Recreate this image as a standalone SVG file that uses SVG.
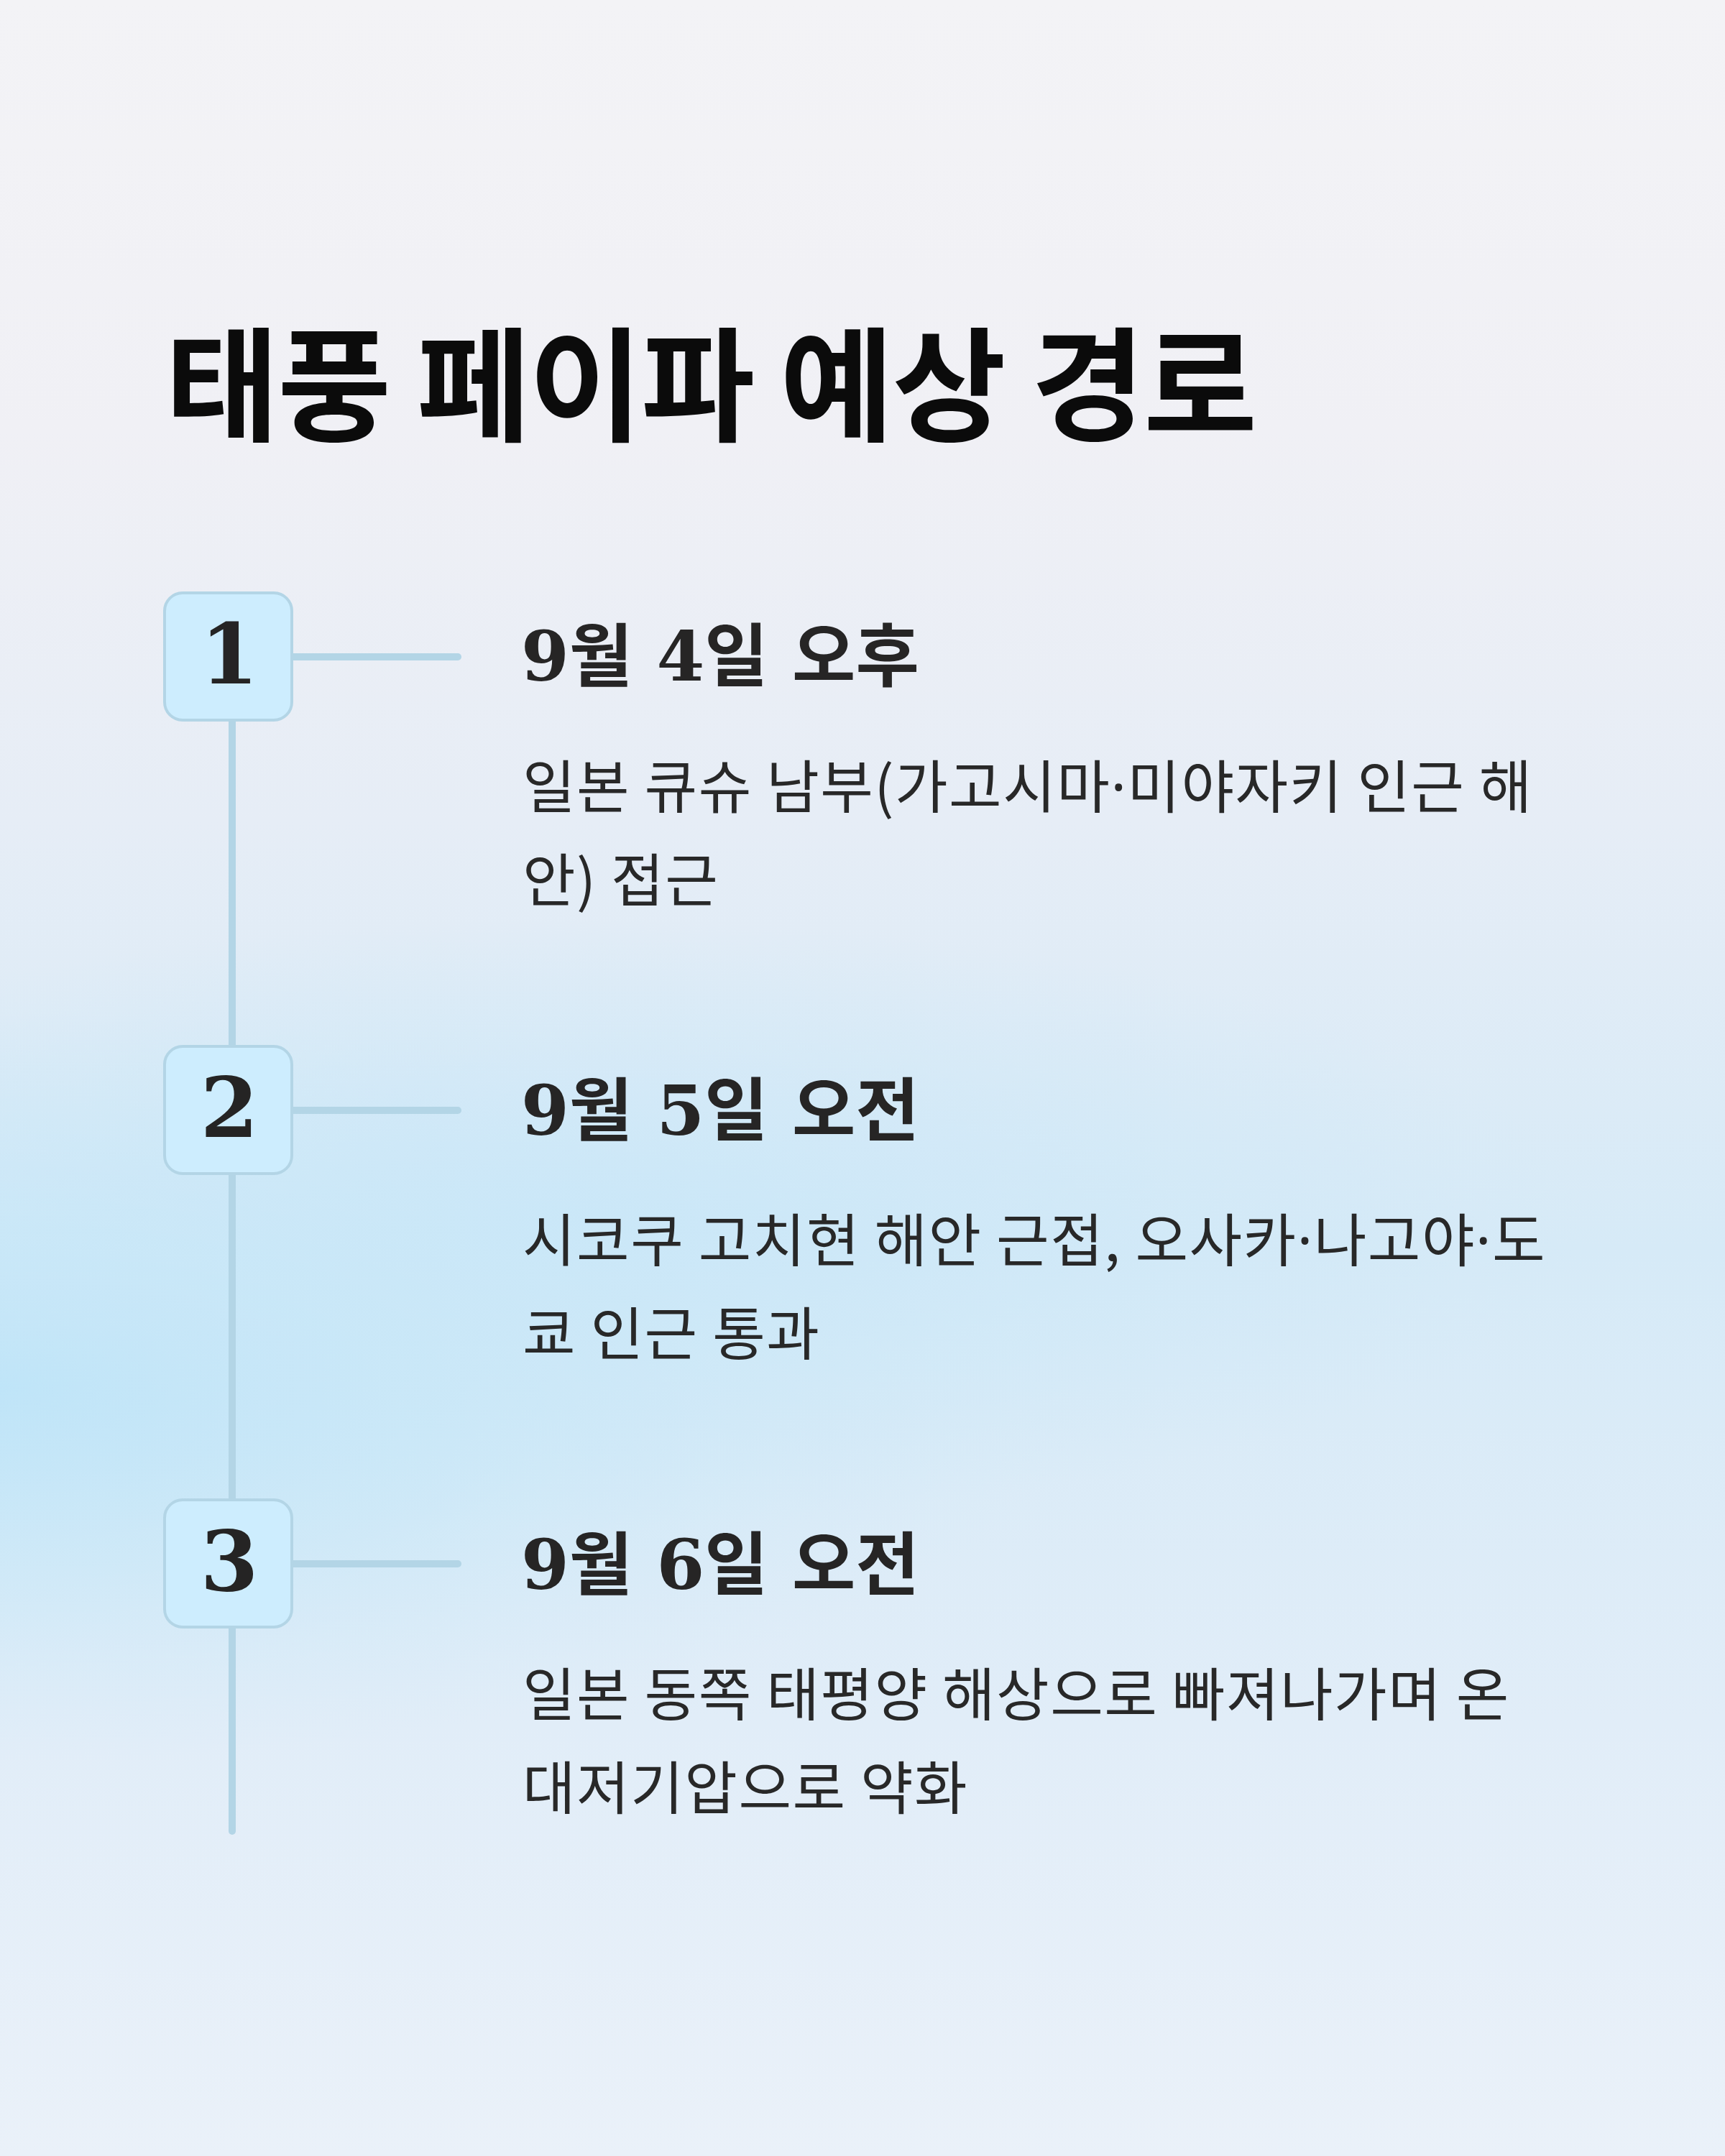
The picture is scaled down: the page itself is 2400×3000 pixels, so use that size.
<svg xmlns="http://www.w3.org/2000/svg" width="2400" height="3000" viewBox="0 0 2400 3000">
  <defs>
    <linearGradient id="bg" x1="0" y1="0" x2="0" y2="1">
      <stop offset="0" stop-color="#f3f3f6"/>
      <stop offset="0.2" stop-color="#f0f0f5"/>
      <stop offset="0.38" stop-color="#e6edf6"/>
      <stop offset="0.58" stop-color="#d6eaf7"/>
      <stop offset="0.8" stop-color="#e1edf8"/>
      <stop offset="1" stop-color="#eaf1f9"/>
    </linearGradient>
    <radialGradient id="glow1" cx="0.5" cy="0.5" r="0.5">
      <stop offset="0" stop-color="#bde4f8" stop-opacity="1"/>
      <stop offset="0.5" stop-color="#c6e7f8" stop-opacity="0.6"/>
      <stop offset="1" stop-color="#d0e9f8" stop-opacity="0"/>
    </radialGradient>
    <radialGradient id="glow2" cx="0.5" cy="0.5" r="0.5">
      <stop offset="0" stop-color="#c9e7f8" stop-opacity="0.85"/>
      <stop offset="1" stop-color="#c9e7f8" stop-opacity="0"/>
    </radialGradient>
    <style>
      .title { font-family: "Noto Sans CJK KR", "Noto Sans", sans-serif; font-weight: 700; font-size: 172px; letter-spacing: -2px; fill: #0b0b0b; }
      .num { font-family: "DejaVu Serif", "Noto Sans CJK KR", serif; font-weight: 700; font-size: 116px; fill: #252424; text-anchor: middle; }
      .head { font-family: "DejaVu Serif", "Noto Sans CJK KR", serif; font-weight: 700; font-size: 96px; fill: #262525; }
      .desc { font-family: "Noto Sans CJK KR", "Noto Sans", sans-serif; font-weight: 400; font-size: 80px; letter-spacing: 1.5px; fill: #282828; }
      .dot { font-family: "Noto Sans", "DejaVu Sans", sans-serif; }
      .box { fill: #cdedfe; stroke: #b3d5e6; stroke-width: 4; }
      .line { stroke: #b3d5e6; stroke-width: 10; stroke-linecap: round; fill: none; }
    </style>
  </defs>

  <rect width="2400" height="3000" fill="url(#bg)"/>
  <ellipse cx="0" cy="1930" rx="1500" ry="520" fill="url(#glow1)"/>
  <ellipse cx="800" cy="1700" rx="1400" ry="420" fill="url(#glow2)"/>

  <text class="title" x="230" y="600">태풍 페이파 예상 경로</text>

  <g id="connectors">
    <line class="line" x1="323" y1="913" x2="323" y2="2548"/>
    <line class="line" x1="406" y1="914" x2="637" y2="914"/>
    <line class="line" x1="406" y1="1545" x2="637" y2="1545"/>
    <line class="line" x1="406" y1="2176" x2="637" y2="2176"/>
  </g>

  <g id="step1">
    <rect class="box" x="229" y="825" width="177" height="177" rx="25"/>
    <text class="num" x="319" y="951">1</text>
    <text class="head" x="725" y="947">9월 4일 오후</text>
    <text class="desc" x="727" y="1124">일본 큐슈 남부(가고시마<tspan class="dot">·</tspan>미야자키 인근 해</text>
    <text class="desc" x="727" y="1254">안) 접근</text>
  </g>

  <g id="step2">
    <rect class="box" x="229" y="1456" width="177" height="177" rx="25"/>
    <text class="num" x="319" y="1582">2</text>
    <text class="head" x="725" y="1579">9월 5일 오전</text>
    <text class="desc" x="727" y="1755">시코쿠 고치현 해안 근접, 오사카<tspan class="dot">·</tspan>나고야<tspan class="dot">·</tspan>도</text>
    <text class="desc" x="727" y="1885">쿄 인근 통과</text>
  </g>

  <g id="step3">
    <rect class="box" x="229" y="2087" width="177" height="177" rx="25"/>
    <text class="num" x="319" y="2213">3</text>
    <text class="head" x="725" y="2211">9월 6일 오전</text>
    <text class="desc" x="727" y="2387">일본 동쪽 태평양 해상으로 빠져나가며 온</text>
    <text class="desc" x="727" y="2517">대저기압으로 약화</text>
  </g>
</svg>
